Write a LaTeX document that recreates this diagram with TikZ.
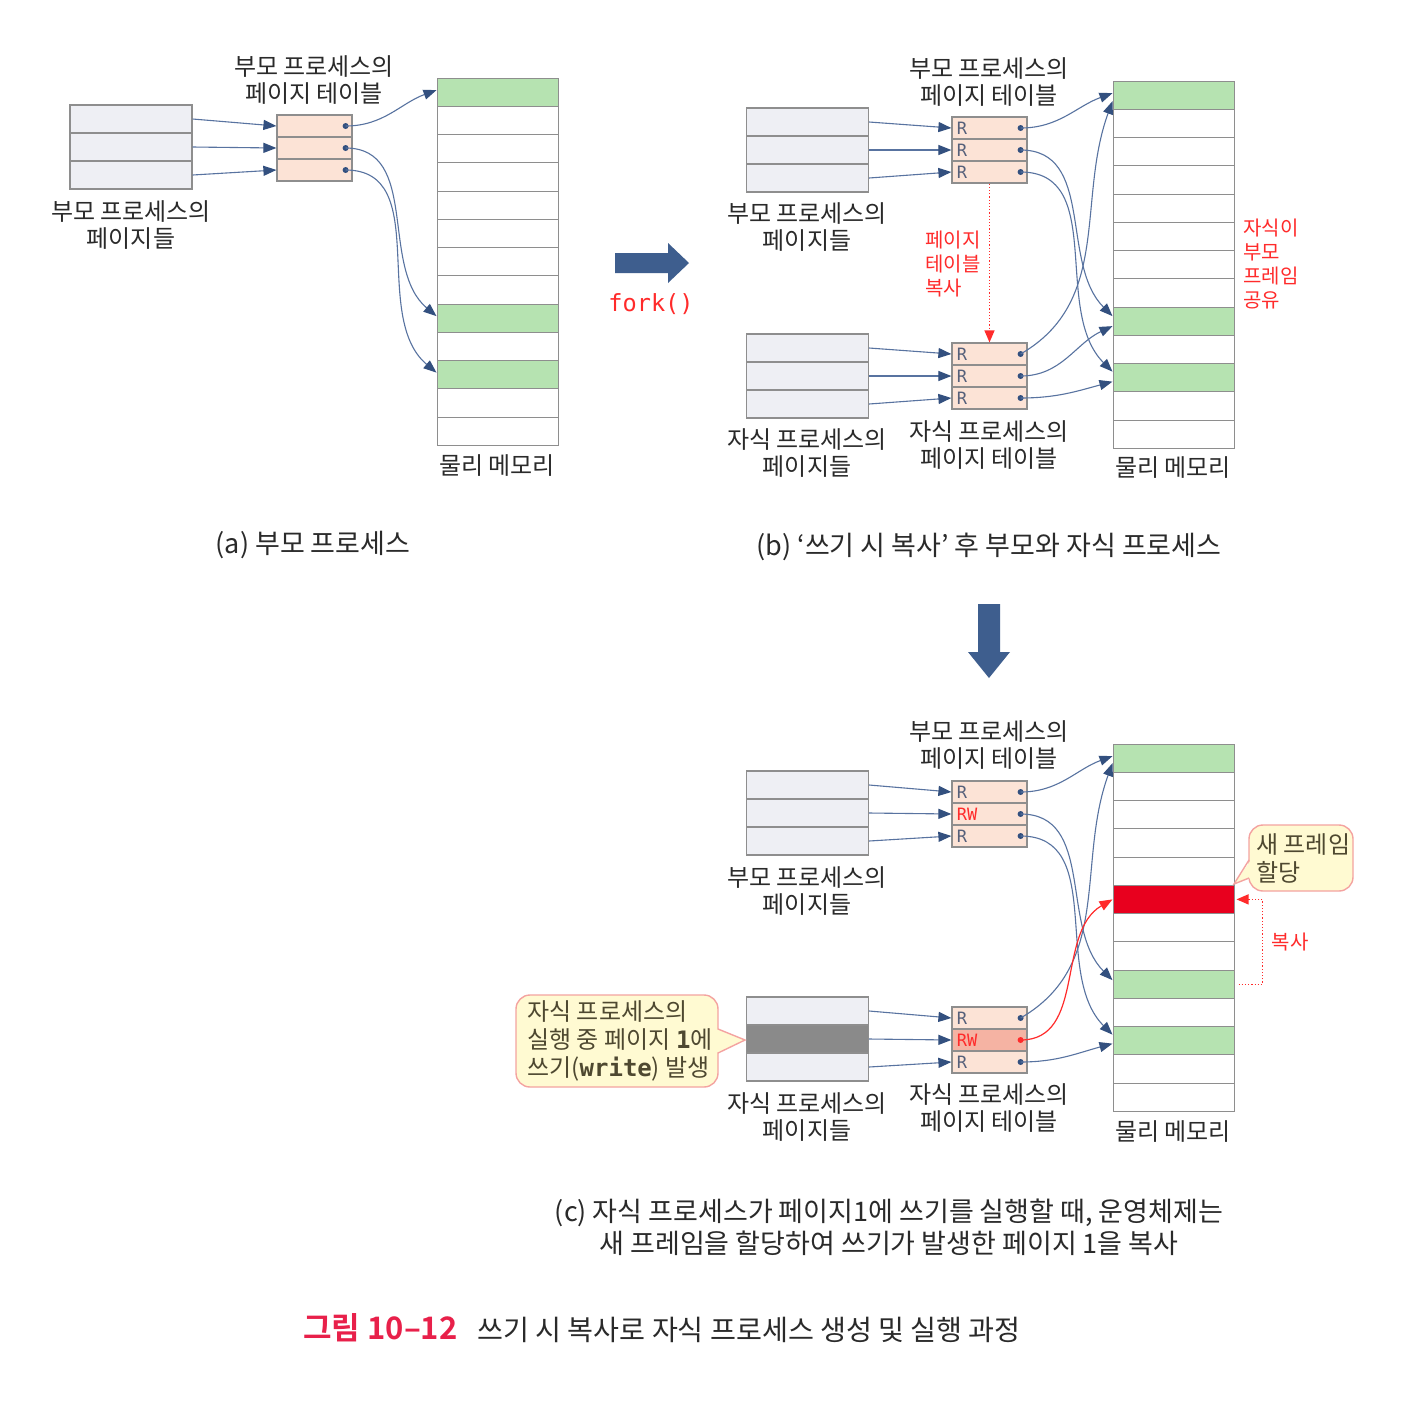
\documentclass[tikz,border=0pt]{standalone}
\usepackage{fontspec}
\setmainfont{Noto Sans CJK KR}[BoldFont={Noto Sans CJK KR Bold}]
\setmonofont{DejaVu Sans Mono}
\usetikzlibrary{arrows.meta,calc}
\definecolor{arrblue}{HTML}{33507F}
\definecolor{lineblue}{HTML}{5873A0}
\definecolor{bigblue}{HTML}{3E5E8E}
\definecolor{boxgray}{HTML}{8E8E8E}
\definecolor{pagefill}{HTML}{EEEFF4}
\definecolor{ptfill}{HTML}{FCE3D6}
\definecolor{ptdark}{HTML}{F5B3A3}
\definecolor{memgreen}{HTML}{B6E3B1}
\definecolor{memred}{HTML}{E8001E}
\definecolor{txtred}{HTML}{FF2B2B}
\definecolor{titlered}{HTML}{E8204A}
\definecolor{txt}{HTML}{2A2A2A}
\definecolor{rtxt}{HTML}{56607A}
\definecolor{calloutfill}{HTML}{FFFAD2}
\definecolor{calloutline}{HTML}{F4A3A0}
\definecolor{callouttxt}{HTML}{4E4830}
\definecolor{graypage}{HTML}{8A8A8A}
\tikzset{
  pagerow/.style={draw=boxgray, fill=pagefill, line width=0.6pt, minimum width=61pt, minimum height=14pt, inner sep=0pt},
  ptrow/.style={draw=boxgray, fill=ptfill, line width=0.6pt, minimum width=37.5pt, minimum height=11pt, inner sep=0pt},
  memrow/.style={draw=boxgray, fill=white, line width=0.5pt, minimum width=60.5pt, minimum height=14.125pt, inner sep=0pt},
  ptdot/.style={circle, fill=arrblue, inner sep=0pt, minimum size=3pt},
  conn/.style={draw=lineblue, line width=0.55pt, -{Triangle[length=6.5pt,width=5pt,color=arrblue]}},
  redconn/.style={draw=txtred, line width=0.6pt, -{Triangle[length=6.5pt,width=5pt,color=txtred]}},
  reddot/.style={draw=txtred, densely dotted, line width=0.6pt, -{Triangle[length=6pt,width=5pt,color=txtred]}},
  lbl/.style={font=\fontsize{12}{13.5}\selectfont, align=center, text=txt, inner sep=0pt},
  rlbl/.style={font=\ttfamily\fontsize{8.5}{9}\selectfont, text=rtxt, inner sep=0pt, anchor=west},
  redlbl/.style={font=\fontsize{10}{12}\selectfont, align=left, text=txtred, inner sep=0pt, anchor=west},
  captext/.style={font=\fontsize{13.5}{16}\selectfont, align=center, text=txt, inner sep=0pt},
  callouttext/.style={font=\fontsize{12}{14}\selectfont, align=left, text=callouttxt, inner sep=0pt, anchor=west},
  calloutbox/.style={draw=calloutline, fill=calloutfill, line width=0.7pt, rounded corners=7pt},
  calloutptr/.style={draw=calloutline, line width=0.7pt},
}
\newcommand\memcolumn[4]{%
  \foreach \i in {0,...,12} \node[memrow] (#1\i) at (#2,{#3+28.25*(\i+0.5)}) {};
  \foreach \r/\c in {#4} \node[memrow,fill=\c] (#1\r) at (#1\r) {};
}
\newcommand\pagecolumn[3]{%
  \foreach \i in {0,1,2} \node[pagerow] (#1\i) at (#2,{#3+28*(\i+0.5)}) {};
}
\newcommand\ptcolumn[4]{%
  \foreach \i in {0,1,2} {
    \node[ptrow] (#1\i) at (#3,{#4+22*(\i+0.5)}) {};
    \node[ptdot] (#2\i) at ($(#1\i.east)+(-7,0)$) {};
  }
}
\begin{document}
\begin{tikzpicture}[x=0.5pt,y=-0.5pt]
\fill[white] (0,0) rectangle (1408,1410);
\useasboundingbox (0,0) rectangle (1408,1410);

% ================= (a) =================
\pagecolumn{ap}{131}{105}
\ptcolumn{apt}{apd}{314.5}{115}
\memcolumn{am}{497.5}{78}{0/memgreen,8/memgreen,10/memgreen}
\foreach \i in {0,1,2} \draw[conn] (ap\i.east) -- (apt\i.west);
\draw[conn] (apd0.center) to[out=0,in=200] ($(am0.west)+(0,-2)$);
\draw[conn] (apd1.center) to[out=0,in=140] ($(am8.west)+(0,-2)$);
\draw[conn] (apd2.center) to[out=0,in=140] ($(am10.west)+(0,-2)$);
\node[lbl] (aptl) at (314,80) {부모 프로세스의\\페이지 테이블};
\node[lbl] (apl) at (131,225) {부모 프로세스의\\페이지들};
\node[lbl] (aml) at (497,466) {물리 메모리};
\node[captext] (acap) at (313,545) {(a) 부모 프로세스};

% fork arrow
\fill[bigblue] (615,253) -- (668,253) -- (668,243) -- (689,263) -- (668,283) -- (668,273) -- (615,273) -- cycle;
\node[font=\ttfamily\fontsize{11.8}{13}\selectfont, text=txtred, inner sep=0pt] (fork) at (651,304) {fork()};

% ================= (b) =================
\pagecolumn{bp}{807.5}{108}
\pagecolumn{bc}{807.5}{334}
\ptcolumn{bpt}{bpd}{989.5}{117}
\ptcolumn{bct}{bcd}{989.5}{343}
\memcolumn{bm}{1173.5}{81}{0/memgreen,8/memgreen,10/memgreen}
\foreach \i in {0,1,2} {
  \node[rlbl] (bptr\i) at ($(bpt\i.west)+(5,0)$) {R};
  \node[rlbl] (bctr\i) at ($(bct\i.west)+(5,0)$) {R};
  \draw[conn] (bp\i.east) -- (bpt\i.west);
  \draw[conn] (bc\i.east) -- (bct\i.west);
}
\draw[conn] (bpd0.center) to[out=0,in=200] ($(bm0.west)+(0,-2)$);
\draw[conn] (bpd1.center) to[out=0,in=135] ($(bm8.west)+(0,-5)$);
\draw[conn] (bpd2.center) to[out=0,in=135] ($(bm10.west)+(0,-6)$);
\draw[conn] (bcd0.center) to[out=30,in=250] ($(bm0.west)+(0,6)$);
\draw[conn] (bcd1.center) to[out=0,in=205] ($(bm8.west)+(0,5)$);
\draw[conn] (bcd2.center) to[out=0,in=195] ($(bm10.west)+(0,4)$);
\draw[reddot] (bpt2.south) -- (bct0.north);
\node[redlbl] (bcopy) at (925,264) {페이지\\테이블\\복사};
\node[redlbl] (bshare) at (1243,264) {자식이\\부모\\프레임\\공유};
\node[lbl] (bptl) at (989,82) {부모 프로세스의\\페이지 테이블};
\node[lbl] (bpl) at (807,227) {부모 프로세스의\\페이지들};
\node[lbl] (bcl) at (807,453) {자식 프로세스의\\페이지들};
\node[lbl] (bctl) at (989,445) {자식 프로세스의\\페이지 테이블};
\node[lbl] (bml) at (1173,468) {물리 메모리};
\node[captext] (bcap) at (989,547) {(b) ‘쓰기 시 복사’ 후 부모와 자식 프로세스};

% down arrow
\fill[bigblue] (978,604) -- (1000,604) -- (1000,652) -- (1010,652) -- (989,678) -- (968,652) -- (978,652) -- cycle;

% ================= (c) =================
\pagecolumn{cp}{807.5}{771}
\pagecolumn{cc}{807.5}{997}
\node[pagerow,fill=graypage] (cc1) at (cc1) {};
\ptcolumn{cpt}{cpd}{989.5}{781}
\ptcolumn{cct}{ccd}{989.5}{1007}
\node[ptrow,fill=ptdark] (cct1) at (cct1) {};
\node[ptdot,fill=txtred] (ccd1) at ($(cct1.east)+(-7,0)$) {};
\memcolumn{cm}{1173.5}{744}{0/memgreen,5/memred,8/memgreen,10/memgreen}
\node[rlbl] (cptr0) at ($(cpt0.west)+(5,0)$) {R};
\node[rlbl,text=txtred] (cptr1) at ($(cpt1.west)+(5,0)$) {RW};
\node[rlbl] (cptr2) at ($(cpt2.west)+(5,0)$) {R};
\node[rlbl] (cctr0) at ($(cct0.west)+(5,0)$) {R};
\node[rlbl,text=txtred] (cctr1) at ($(cct1.west)+(5,0)$) {RW};
\node[rlbl] (cctr2) at ($(cct2.west)+(5,0)$) {R};
\foreach \i in {0,1,2} {
  \draw[conn] (cp\i.east) -- (cpt\i.west);
  \draw[conn] (cc\i.east) -- (cct\i.west);
}
\draw[conn] (cpd0.center) to[out=0,in=200] ($(cm0.west)+(0,-2)$);
\draw[conn] (cpd1.center) to[out=0,in=135] ($(cm8.west)+(0,-4)$);
\draw[conn] (cpd2.center) to[out=0,in=135] ($(cm10.west)+(0,-6)$);
\draw[conn] (ccd0.center) to[out=30,in=250] ($(cm0.west)+(0,5)$);
\draw[redconn] (ccd1.center) to[out=0,in=210] (cm5.west);
\draw[conn] (ccd2.center) to[out=0,in=195] ($(cm10.west)+(0,3)$);
\draw[reddot] ($(cm8.east)+(4,0)$) -| ($(cm5.east)+(28,0)$) -- ($(cm5.east)+(2,0)$);
\node[font=\fontsize{10}{12}\selectfont, text=txtred, inner sep=0pt] (ccopy) at (1290,942) {복사};
\node[lbl] (cptl) at (989,745) {부모 프로세스의\\페이지 테이블};
\node[lbl] (cpl) at (807,891) {부모 프로세스의\\페이지들};
\node[lbl] (ccl) at (807,1117) {자식 프로세스의\\페이지들};
\node[lbl] (cctl) at (989,1108) {자식 프로세스의\\페이지 테이블};
\node[lbl] (cml) at (1173,1132) {물리 메모리};

% callouts
\draw[calloutbox] (516,995) rectangle (718,1087);
\fill[calloutfill] (716,1029) -- (745,1040) -- (716,1053) -- cycle;
\draw[calloutptr] (718,1029) -- (745,1040) -- (718,1053);
\node[callouttext] (callL) at (527,1041) {자식 프로세스의\\실행 중 페이지 {\ttfamily\bfseries 1}에\\쓰기({\ttfamily\bfseries write}) 발생};
\draw[calloutbox] (1249,825) rectangle (1353,891);
\fill[calloutfill] (1251,860) -- (1234,884) -- (1251,878) -- cycle;
\draw[calloutptr] (1249,860) -- (1234,884) -- (1249,878);
\node[callouttext] (callR) at (1256,858) {새 프레임\\할당};

\node[captext] (ccap) at (889,1227) {(c) 자식 프로세스가 페이지1에 쓰기를 실행할 때, 운영체제는\\새 프레임을 할당하여 쓰기가 발생한 페이지 1을 복사};

% title
\node[anchor=west, inner sep=0pt, font=\bfseries\fontsize{15.5}{18}\selectfont, text=titlered] (fig) at (303,1328) {그림 10–12};
\node[anchor=west, inner sep=0pt, font=\fontsize{14.1}{16}\selectfont, text=txt] (title) at (477,1330) {쓰기 시 복사로 자식 프로세스 생성 및 실행 과정};
\end{tikzpicture}
\end{document}
